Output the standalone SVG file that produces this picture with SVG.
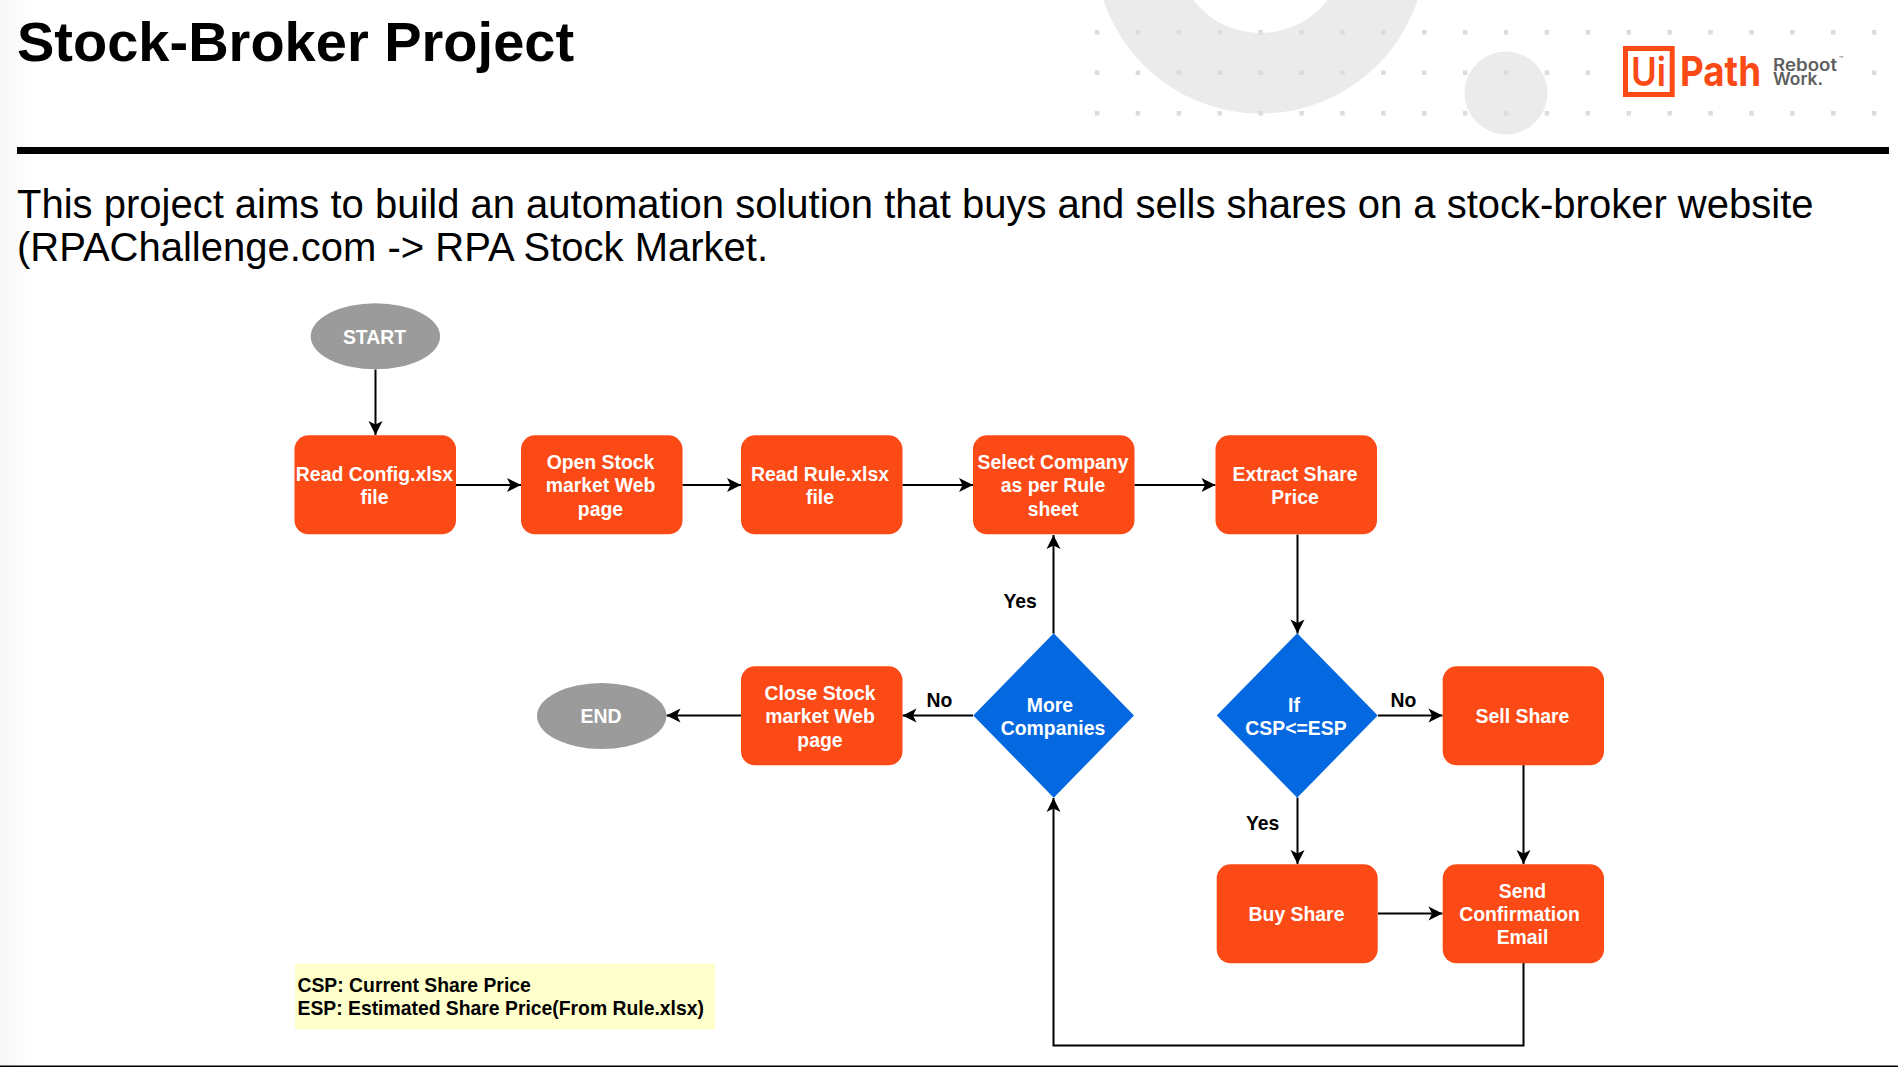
<svg xmlns="http://www.w3.org/2000/svg" width="1898" height="1067" viewBox="0 0 1898 1067">
<style>
text{font-family:"Liberation Sans",Arial,sans-serif}
.box{fill:#fc4a16}
.dia{fill:#0469e0}
.ell{fill:#9b9b9b}
.n{fill:#fff;font-size:19.4px;font-weight:700;text-anchor:middle}
.lab{fill:#000;font-size:19.35px;font-weight:700}
.c{fill:none;stroke:#000;stroke-width:2}
.d{fill:#d9dce2}
.bg{fill:#ebebeb}
.lg{font-family:Inter,"Open Sans",sans-serif}
</style>
<defs>
<marker id="a" markerUnits="userSpaceOnUse" markerWidth="16" markerHeight="16" refX="15" refY="8" orient="auto"><path d="M1 1 L15 8 L1 15 L4.5 8Z" fill="#000"/></marker>
<linearGradient id="edge" x1="0" x2="1" y1="0" y2="0"><stop offset="0" stop-color="#f7f7f7"/><stop offset="1" stop-color="#fff"/></linearGradient>
<g id="row"><rect class="d" x="0" y="-2.3" width="4.5" height="4.6"/><rect class="d" x="40.9" y="-2.3" width="4.5" height="4.6"/><rect class="d" x="81.8" y="-2.3" width="4.5" height="4.6"/><rect class="d" x="122.7" y="-2.3" width="4.5" height="4.6"/><rect class="d" x="163.6" y="-2.3" width="4.5" height="4.6"/><rect class="d" x="204.5" y="-2.3" width="4.5" height="4.6"/><rect class="d" x="245.4" y="-2.3" width="4.5" height="4.6"/><rect class="d" x="286.3" y="-2.3" width="4.5" height="4.6"/><rect class="d" x="327.2" y="-2.3" width="4.5" height="4.6"/><rect class="d" x="368.1" y="-2.3" width="4.5" height="4.6"/><rect class="d" x="409" y="-2.3" width="4.5" height="4.6"/><rect class="d" x="449.9" y="-2.3" width="4.5" height="4.6"/><rect class="d" x="490.8" y="-2.3" width="4.5" height="4.6"/><rect class="d" x="531.7" y="-2.3" width="4.5" height="4.6"/><rect class="d" x="572.6" y="-2.3" width="4.5" height="4.6"/><rect class="d" x="613.5" y="-2.3" width="4.5" height="4.6"/><rect class="d" x="654.4" y="-2.3" width="4.5" height="4.6"/><rect class="d" x="695.3" y="-2.3" width="4.5" height="4.6"/><rect class="d" x="736.2" y="-2.3" width="4.5" height="4.6"/><rect class="d" x="777.1" y="-2.3" width="4.5" height="4.6"/></g>
</defs>
<rect width="1898" height="1067" fill="#fff"/>
<rect width="36" height="1067" fill="url(#edge)"/>
<g id="decor">
<path class="bg" fill-rule="evenodd" d="M1095 -52a165.500 165.500 0 1 0 331 0a165.500 165.500 0 1 0 -331 0ZM1175.500 -52a85 85 0 1 0 170 0a85 85 0 1 0 -170 0Z"/>
<circle class="bg" cx="1506" cy="93" r="41.500"/>
<use href="#row" x="1094.800" y="32.300"/><use href="#row" x="1094.800" y="72.700"/><use href="#row" x="1094.800" y="113.300"/>
</g>
<g id="logo">
<rect x="1618" y="46" width="240" height="52" fill="#fff"/>
<rect x="1625.500" y="48.500" width="46.700" height="46" fill="#fff" stroke="#fc4a16" stroke-width="5"/>
<text class="lg" x="1631" y="86" font-size="40" font-weight="600" fill="#fc4a16" textLength="35" lengthAdjust="spacingAndGlyphs">Ui</text>
<text class="lg" x="1680" y="85.500" font-size="41" font-weight="700" fill="#fc4a16" textLength="81" lengthAdjust="spacingAndGlyphs">Path</text>
<text class="lg" x="1773" y="70.500" font-size="17" font-weight="600" fill="#5f5f5f" textLength="64" lengthAdjust="spacingAndGlyphs">Reboot</text>
<text class="lg" x="1839" y="62" font-size="7" fill="#5f5f5f">™</text>
<text class="lg" x="1773" y="85" font-size="17" font-weight="600" fill="#5f5f5f" textLength="50" lengthAdjust="spacingAndGlyphs">Work.</text>
</g>
<g id="header">
<text x="17" y="61" font-size="56" font-weight="700" fill="#000">Stock-Broker Project</text>
<rect x="17" y="147" width="1872" height="7" fill="#000"/>
<text x="17" y="218" font-size="40" fill="#000">This project aims to build an automation solution that buys and sells shares on a stock-broker website</text>
<text x="17" y="261" font-size="40" fill="#000">(RPAChallenge.com -&gt; RPA Stock Market.</text>
</g>
<g id="connectors">
<path class="c" marker-end="url(#a)" d="M375.500 369.500V435"/>
<path class="c" marker-end="url(#a)" d="M456 485H521"/>
<path class="c" marker-end="url(#a)" d="M682.500 485H741"/>
<path class="c" marker-end="url(#a)" d="M902.500 485H973"/>
<path class="c" marker-end="url(#a)" d="M1134.500 485H1215.500"/>
<path class="c" marker-end="url(#a)" d="M1297.500 534.500V633.500"/>
<path class="c" marker-end="url(#a)" d="M1053.500 633.500V535"/>
<path class="c" marker-end="url(#a)" d="M973 715.500H902.500"/>
<path class="c" marker-end="url(#a)" d="M741 715.500H666.500"/>
<path class="c" marker-end="url(#a)" d="M1378 715.500H1442.500"/>
<path class="c" marker-end="url(#a)" d="M1297.500 797.500V864"/>
<path class="c" marker-end="url(#a)" d="M1523.500 765V864"/>
<path class="c" marker-end="url(#a)" d="M1378 913.500H1442.500"/>
<path class="c" marker-end="url(#a)" d="M1523.500 963V1045.500H1053.500V798"/>
<text class="lab" x="1003.500" y="608">Yes</text>
<text class="lab" x="926.500" y="706.500">No</text>
<text class="lab" x="1390.500" y="706.500">No</text>
<text class="lab" x="1246" y="830">Yes</text>
</g>
<g id="start"><ellipse class="ell" cx="375.400" cy="336.300" rx="64.700" ry="33"/><text class="n" x="374.500" y="344">START</text></g>
<g id="read-config"><rect class="box" x="294.500" y="435.300" width="161.500" height="99" rx="14"/><text class="n" x="374.500" y="481">Read Config.xlsx</text><text class="n" x="374.500" y="504">file</text></g>
<g id="open-market"><rect class="box" x="521" y="435.300" width="161.500" height="99" rx="14"/><text class="n" x="600.500" y="469">Open Stock</text><text class="n" x="600.500" y="492">market Web</text><text class="n" x="600.500" y="516">page</text></g>
<g id="read-rule"><rect class="box" x="741" y="435.300" width="161.500" height="99" rx="14"/><text class="n" x="820" y="481">Read Rule.xlsx</text><text class="n" x="820" y="504">file</text></g>
<g id="select-company"><rect class="box" x="973" y="435.300" width="161.500" height="99" rx="14"/><text class="n" x="1053" y="469">Select Company</text><text class="n" x="1053" y="492">as per Rule</text><text class="n" x="1053" y="516">sheet</text></g>
<g id="extract-price"><rect class="box" x="1215.500" y="435.300" width="161.500" height="99" rx="14"/><text class="n" x="1295" y="481">Extract Share</text><text class="n" x="1295" y="504">Price</text></g>
<g id="end"><ellipse class="ell" cx="601.700" cy="716" rx="64.700" ry="33"/><text class="n" x="601" y="723">END</text></g>
<g id="close-market"><rect class="box" x="741" y="666.300" width="161.500" height="99" rx="14"/><text class="n" x="820" y="700">Close Stock</text><text class="n" x="820" y="723">market Web</text><text class="n" x="820" y="747">page</text></g>
<g id="more-companies"><path class="dia" d="M1053.700 633.300L1134 715.500L1053.700 797.700L973.300 715.500Z"/><text class="n" x="1050" y="712">More</text><text class="n" x="1053" y="735">Companies</text></g>
<g id="if-csp"><path class="dia" d="M1297.200 633.300L1377.700 715.500L1297.200 797.700L1216.700 715.500Z"/><text class="n" x="1294" y="712">If</text><text class="n" x="1296" y="735">CSP&lt;=ESP</text></g>
<g id="sell"><rect class="box" x="1442.700" y="666.300" width="161.300" height="99" rx="14"/><text class="n" x="1522.500" y="723">Sell Share</text></g>
<g id="buy"><rect class="box" x="1216.700" y="864.300" width="161" height="99" rx="14"/><text class="n" x="1296.500" y="921">Buy Share</text></g>
<g id="send"><rect class="box" x="1442.700" y="864.300" width="161.300" height="99" rx="14"/><text class="n" x="1522.500" y="898">Send</text><text class="n" x="1519.500" y="921">Confirmation</text><text class="n" x="1522.500" y="944">Email</text></g>
<g id="legend"><rect x="295" y="963.500" width="420" height="66" fill="#ffffcc"/><text class="lab" x="297.500" y="991.500">CSP: Current Share Price</text><text class="lab" x="297.500" y="1014.500">ESP: Estimated Share Price(From Rule.xlsx)</text></g>
<rect x="0" y="1065.500" width="1898" height="1.500" fill="#000"/>
</svg>
